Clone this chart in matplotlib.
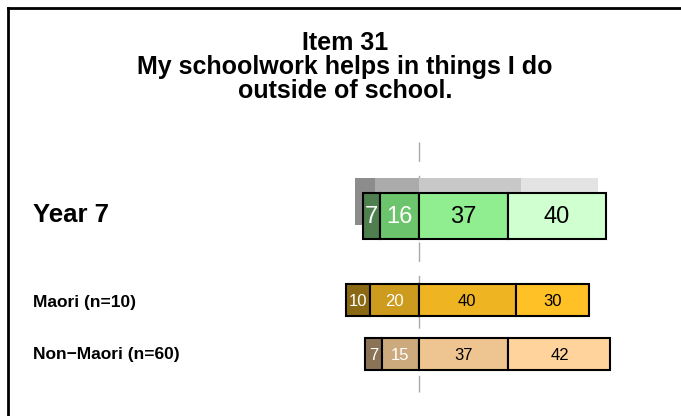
import matplotlib
matplotlib.use("Agg")
import matplotlib.pyplot as plt
from matplotlib.lines import Line2D

plt.rcParams['font.family'] = ['Liberation Sans', 'DejaVu Sans']
plt.rcParams['font.weight'] = 'bold'

# response shares (strongly disagree, disagree, agree, strongly agree)
title = "Item 31\nMy schoolwork helps in things I do\noutside of school."
groups = ["Year 7", "Maori (n=10)", "Non\u2212Maori (n=60)"]
year7 = [7, 16, 37, 40]
year7_prev = [8, 18, 42, 32]
maori = [10, 20, 40, 30]
non_maori = [7, 15, 37, 42]

greens = ["#4F7F4F", "#6CC46C", "#90EE90", "#D0FFD0"]
greys = ["#8C8C8C", "#ABABAB", "#C8C8C8", "#E3E3E3"]
golds = ["#8B6914", "#CD9B1D", "#EEB422", "#FFC125"]
tans = ["#8B7355", "#CDAA7D", "#EEC591", "#FFD39B"]
txt_cols = ["white", "white", "black", "black"]

fig = plt.figure(figsize=(6.81, 4.16), dpi=100)
ax = fig.add_axes([0, 0, 1, 1])
# x in percent, 0 at the split between disagree/agree; y in pixels from top
px = 2.43
x0 = 418.5
ax.set_xlim(-x0 / px, (681 - x0) / px)
ax.set_ylim(416, 0)
ax.axis('off')


def stacked(vals, yc, h, colors, edge=True, fs=None):
    left = -(vals[0] + vals[1])
    for i, v in enumerate(vals):
        ax.barh(yc, v, height=h, left=left, color=colors[i],
                edgecolor='black' if edge else 'none',
                linewidth=1.5 if edge else 0, zorder=3 if edge else 2)
        if fs:
            ax.text(left + v / 2, yc + 1, str(v), ha='center', va='center',
                    color=txt_cols[i], fontsize=fs, fontweight='normal', zorder=4)
        left += v


ax.plot([0, 0], [142, 392], color='#AAAAAA', lw=1.0, ls=(0, (14, 10)), zorder=1)

stacked(year7_prev, 201.5, 47, greys, edge=False)
stacked(year7, 216, 46, greens, fs=17)
stacked(maori, 300, 32, golds, fs=12)
stacked(non_maori, 354, 32, tans, fs=12)

lx = (33 - x0) / px
ax.text(lx, 215, groups[0], fontsize=18.5, fontweight='bold', va='center', ha='left')
ax.text(lx, 302, groups[1], fontsize=12.5, fontweight='bold', va='center', ha='left')
ax.text(lx, 355, groups[2], fontsize=12.5, fontweight='bold', va='center', ha='left')

ax.text((345 - x0) / px, 67, title, fontsize=18, fontweight='bold',
        ha='center', va='center', linespacing=0.98)

# frame lines (top and left)
fig.add_artist(Line2D([7.5 / 681, 1], [1 - 8 / 416, 1 - 8 / 416], color='black', lw=2,
                      transform=fig.transFigure))
fig.add_artist(Line2D([7.5 / 681, 7.5 / 681], [0, 1 - 8 / 416], color='black', lw=2,
                      transform=fig.transFigure))

fig.savefig("out.png", dpi=100)
